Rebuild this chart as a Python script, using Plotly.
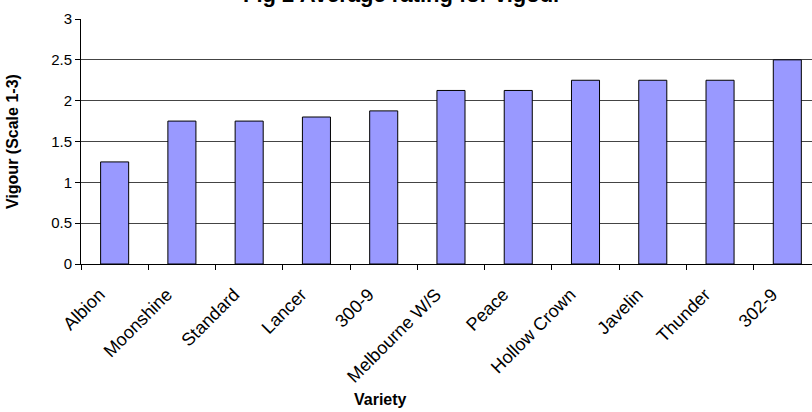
import plotly.graph_objects as go

varieties = ["Albion", "Moonshine", "Standard", "Lancer", "300-9", "Melbourne W/S",
             "Peace", "Hollow Crown", "Javelin", "Thunder", "302-9"]
vigour = [1.25, 1.75, 1.75, 1.8, 1.875, 2.125, 2.125, 2.25, 2.25, 2.25, 2.5]
y_ticks = [0, 0.5, 1, 1.5, 2, 2.5, 3]
y_tick_text = ["0", "0.5", "1", "1.5", "2", "2.5", "3"]

FONT = "Arial, 'Liberation Sans', sans-serif"

fig = go.Figure(go.Bar(
    x=varieties, y=vigour,
    marker=dict(color="#9999FF", line=dict(color="#000000", width=1)),
    width=0.417,
))

fig.update_layout(
    width=812, height=412,
    margin=dict(l=81, r=0, t=19, b=148),
    paper_bgcolor="white", plot_bgcolor="white",
    showlegend=False,
    font=dict(family=FONT, color="black"),
    xaxis=dict(
        type="category", range=[-0.5, 10.367],
        showline=True, linecolor="black", linewidth=1,
        ticks="outside", tickson="boundaries", ticklen=5, tickcolor="black",
        tickangle=-45, tickfont=dict(family=FONT, size=18, color="black"),
        ticklabelstandoff=12, ticklabelshift=-15,
        showgrid=False, zeroline=False,
    ),
    yaxis=dict(
        range=[0, 3], tickvals=y_ticks, ticktext=y_tick_text,
        showline=True, linecolor="black", linewidth=1,
        ticks="outside", ticklen=5, tickcolor="black",
        tickfont=dict(family=FONT, size=15, color="black"),
        showgrid=True, gridcolor="#444444", gridwidth=1, zeroline=False,
    ),
    annotations=[
        dict(text="<b>Fig 2 Average rating for vigour</b>", xref="paper", yref="paper",
             x=0.44, y=1.10, xanchor="center", yanchor="middle", showarrow=False,
             font=dict(family=FONT, size=22, color="black")),
        dict(text="<b>Variety</b>", xref="paper", yref="paper",
             x=0.41, y=-0.555, xanchor="center", yanchor="middle", showarrow=False,
             font=dict(family=FONT, size=16, color="black")),
        dict(text="<b>Vigour (Scale 1-3)</b>", xref="paper", yref="paper",
             x=-0.093, y=0.498, xanchor="center", yanchor="middle", showarrow=False,
             textangle=-90, font=dict(family=FONT, size=16, color="black")),
    ],
)

fig.write_html("out.html")
